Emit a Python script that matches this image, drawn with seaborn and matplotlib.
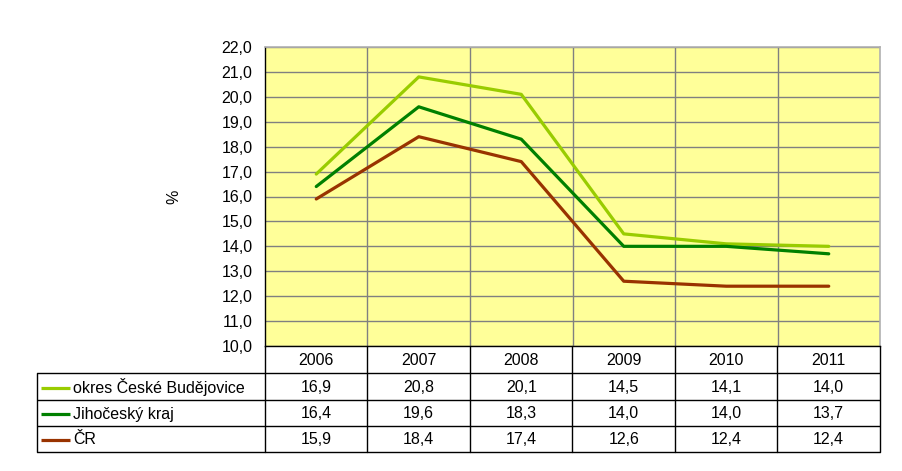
import matplotlib
matplotlib.use("Agg")
import matplotlib.pyplot as plt
import seaborn as sns
import pandas as pd
import numpy as np

years = ["2006", "2007", "2008", "2009", "2010", "2011"]
series_names = ["okres České Budějovice", "Jihočeský kraj", "ČR"]
okres = [16.9, 20.8, 20.1, 14.5, 14.1, 14.0]
kraj = [16.4, 19.6, 18.3, 14.0, 14.0, 13.7]
cr = [15.9, 18.4, 17.4, 12.6, 12.4, 12.4]
colors = ["#99CC00", "#008000", "#993300"]
y_ticks = list(range(10, 23))

sns.set_style("white")
plt.rcParams["font.family"] = ["Liberation Sans", "DejaVu Sans"]
plt.rcParams["text.color"] = "black"
plt.rcParams["axes.labelcolor"] = "black"
plt.rcParams["ytick.color"] = "black"
plt.rcParams["xtick.color"] = "black"
FS = 11.5

W, H = 903, 471
fig = plt.figure(figsize=(W / 100, H / 100), dpi=100)

def fx(px):
    return px / W

def fy(py):
    return 1 - py / H

plot_l, plot_r, plot_t, plot_b = 265, 880, 47, 346
ax = fig.add_axes([fx(plot_l), fy(plot_b), fx(plot_r - plot_l), (plot_b - plot_t) / H])
ax.set_facecolor("#FFFF99")

df = pd.DataFrame({
    "x": list(range(len(years))) * 3,
    "value": okres + kraj + cr,
    "series": sum([[n] * len(years) for n in series_names], []),
})
sns.lineplot(data=df, x="x", y="value", hue="series", palette=colors,
             linewidth=2.3, ax=ax, legend=False)

ax.set_xlim(-0.5, len(years) - 0.5)
ax.set_ylim(10, 22)
ax.set_yticks(y_ticks)
ax.set_yticklabels([f"{v:.1f}".replace(".", ",") for v in y_ticks], fontsize=FS)
ax.set_xticks([])
ax.set_xticks(np.arange(0.5, len(years) - 0.5, 1), minor=True)
ax.tick_params(axis="x", which="both", length=0, labelbottom=False)
ax.tick_params(axis="y", length=5, width=1, color="black", labelcolor="black",
               direction="out", pad=4)
ax.grid(True, axis="y", which="major", color="#808080", linewidth=1)
ax.grid(True, axis="x", which="minor", color="#808080", linewidth=1)
ax.set_xlabel("")
ax.set_ylabel("%", fontsize=FS, color="black")
ax.yaxis.set_label_coords((181 - plot_l) / (plot_r - plot_l), 0.5)
for s in ["left", "bottom"]:
    ax.spines[s].set_color("black")
    ax.spines[s].set_linewidth(1)
for s in ["top", "right"]:
    ax.spines[s].set_color("#B0B0B0")
    ax.spines[s].set_linewidth(1.2)

# data table
tab_l, tab_r = 37, 880
rows_px = [346, 373, 400, 426, 452]
colw = (plot_r - plot_l) / len(years)
ta = fig.add_axes([0, 0, 1, 1])
ta.set_xlim(0, W)
ta.set_ylim(H, 0)
ta.axis("off")
lw = 1.0
for r in rows_px[1:]:
    ta.plot([tab_l, tab_r], [r, r], color="black", lw=lw, solid_capstyle="butt")
for k in range(len(years) + 1):
    xk = plot_l + k * colw
    ta.plot([xk, xk], [rows_px[0], rows_px[-1]], color="black", lw=lw)
ta.plot([tab_l, tab_l], [rows_px[1], rows_px[-1]], color="black", lw=lw)

for k, yr in enumerate(years):
    ta.text(plot_l + (k + 0.5) * colw, (rows_px[0] + rows_px[1]) / 2 + 1, yr,
            ha="center", va="center", fontsize=FS, color="black")

for i, (name, vals, c) in enumerate(zip(series_names, [okres, kraj, cr], colors)):
    yc = (rows_px[i + 1] + rows_px[i + 2]) / 2 + 1
    ta.plot([41, 70], [yc, yc], color=c, lw=2.3, solid_capstyle="butt")
    ta.text(73, yc, name, ha="left", va="center", fontsize=FS, color="black")
    for k, v in enumerate(vals):
        ta.text(plot_l + (k + 0.5) * colw, yc, f"{v:.1f}".replace(".", ","),
                ha="center", va="center", fontsize=FS, color="black")

fig.savefig("out.png", dpi=100)
